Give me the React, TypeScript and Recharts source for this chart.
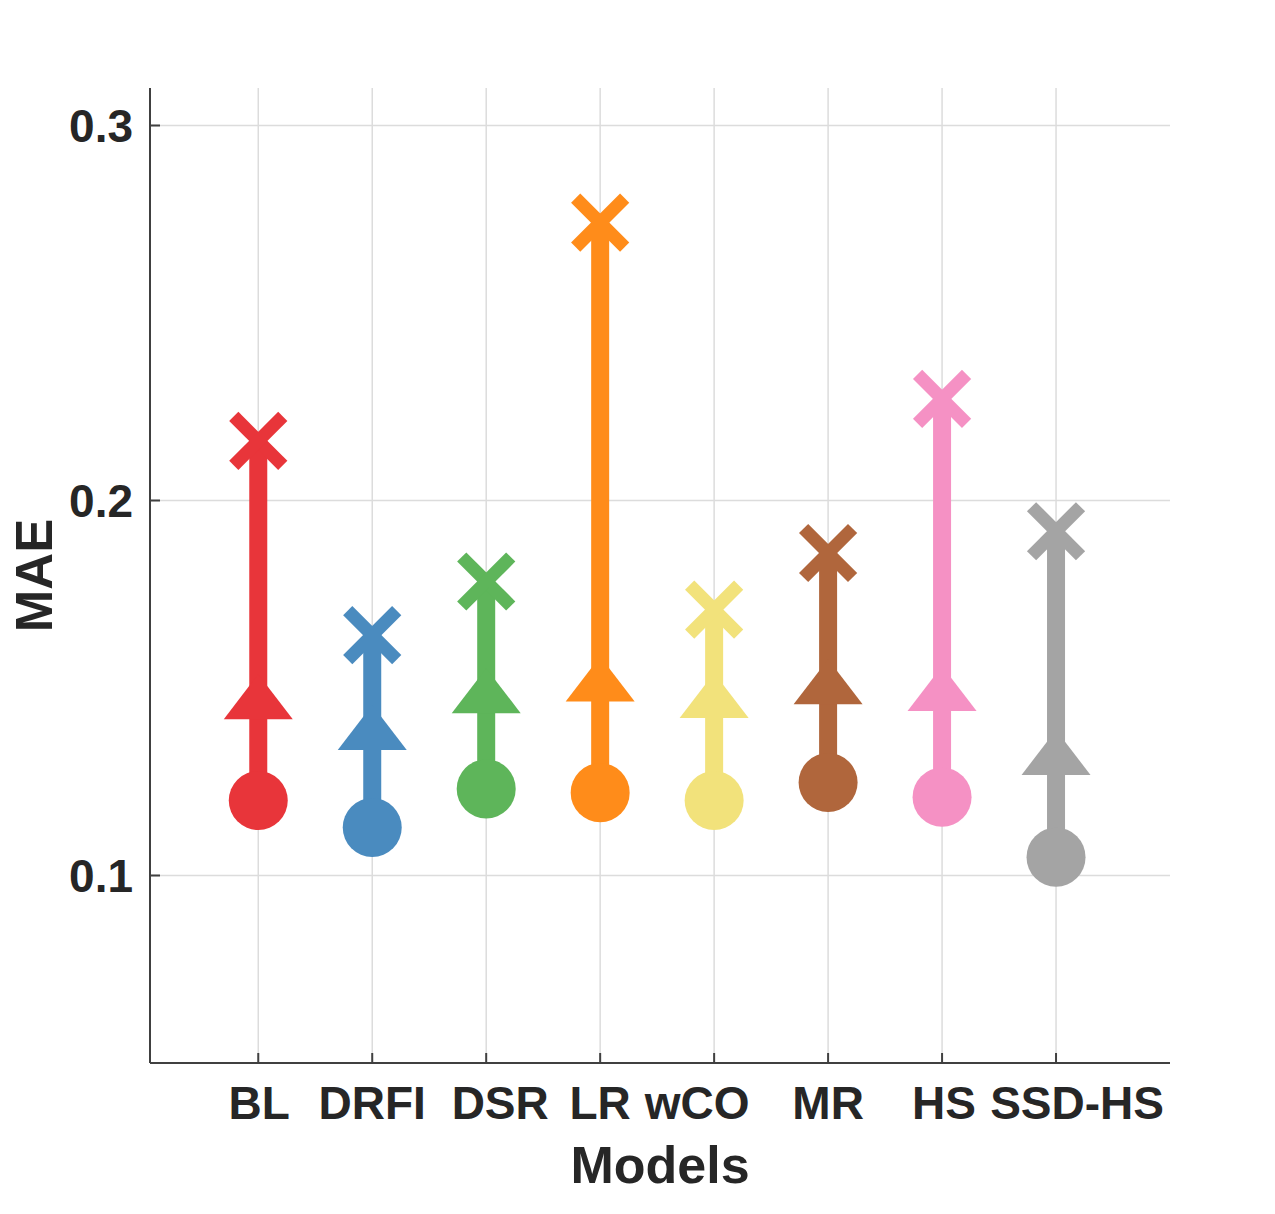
import { ComposedChart, Scatter, XAxis, YAxis, CartesianGrid } from "recharts";

const models = ["BL", "DRFI", "DSR", "LR", "wCO", "MR", "HS", "SSD-HS"];
const circleMAE = [0.12, 0.1128, 0.1231, 0.1221, 0.12, 0.1248, 0.1209, 0.1049];
const triangleMAE = [0.1477, 0.1395, 0.1493, 0.1524, 0.148, 0.1517, 0.1499, 0.1328];
const crossMAE = [0.2159, 0.1641, 0.1784, 0.2741, 0.1709, 0.186, 0.2271, 0.1918];
const yTicks = [0.1, 0.2, 0.3];

const colors = ["#e8353a", "#4a8bbf", "#5eb55a", "#ff8c1a", "#f2e27b", "#b0663c", "#f591c4", "#a4a4a4"];
// the original tick labels are not centred exactly under their ticks
const labelShift = [1, 0, 14, 0, -17, 0, 2, 21];

const FONT = "'Liberation Sans', Arial, Helvetica, sans-serif";
const INK = "#262626";
const AXIS = "#404040";

const xPos = models.map((_, i) => i + 1);
const circles = models.map((_, i) => ({ x: i + 1, y: circleMAE[i], k: i }));
const triangles = models.map((_, i) => ({ x: i + 1, y: triangleMAE[i], k: i }));
const crosses = models.map((_, i) => ({ x: i + 1, y: crossMAE[i], k: i }));

const XTick = (props: any) => {
  const { x, y, payload } = props;
  const i = Math.round(payload.value) - 1;
  return (
    <g>
      <line x1={x} y1={y} x2={x} y2={y - 10} stroke={AXIS} strokeWidth={2} />
      <text x={x + labelShift[i]} y={y + 56} textAnchor="middle" fontFamily={FONT} fontWeight="bold" fontSize={46} fill={INK}>
        {models[i]}
      </text>
    </g>
  );
};

const YTick = (props: any) => {
  const { x, y, payload } = props;
  return (
    <g>
      <line x1={x} y1={y} x2={x + 10} y2={y} stroke={AXIS} strokeWidth={2} />
      <text x={x - 17} y={y} dy="0.36em" textAnchor="end" fontFamily={FONT} fontWeight="bold" fontSize={46} fill={INK}>
        {payload.value.toFixed(1)}
      </text>
    </g>
  );
};

const XTitle = (props: any) => {
  const vb = props.viewBox;
  return (
    <text x={vb.x + vb.width / 2} y={vb.y + 120} textAnchor="middle" fontFamily={FONT} fontWeight="bold" fontSize={52} fill={INK}>
      Models
    </text>
  );
};

const YTitle = (props: any) => {
  const vb = props.viewBox;
  const cx = vb.x + 44;
  const cy = vb.y + vb.height / 2;
  return (
    <text x={cx} y={cy} transform={`rotate(-90, ${cx}, ${cy})`} textAnchor="middle" fontFamily={FONT} fontWeight="bold" fontSize={51} fill={INK}>
      MAE
    </text>
  );
};

const Dot = (p: any) => <circle cx={p.cx} cy={p.cy} r={29.5} fill={colors[p.payload.k]} />;

const Tri = (p: any) => (
  <polygon
    points={`${p.cx},${p.cy - 22.5} ${p.cx - 34.5},${p.cy + 22.5} ${p.cx + 34.5},${p.cy + 22.5}`}
    fill={colors[p.payload.k]}
  />
);

const Cross = (p: any) => {
  const h = 24.5;
  const c = colors[p.payload.k];
  return (
    <g stroke={c} strokeWidth={13}>
      <line x1={p.cx - h} y1={p.cy - h} x2={p.cx + h} y2={p.cy + h} />
      <line x1={p.cx - h} y1={p.cy + h} x2={p.cx + h} y2={p.cy - h} />
    </g>
  );
};

export default function App() {
  return (
    <ComposedChart width={1250} height={1190} margin={{ top: 80, right: 88, bottom: 0, left: 0 }}>
      <CartesianGrid stroke="#dcdcdc" strokeWidth={1.5} syncWithTicks />
      <XAxis
        type="number"
        dataKey="x"
        domain={[0.05, 9]}
        ticks={xPos}
        allowDataOverflow
        interval={0}
        tickSize={0}
        tickMargin={0}
        tick={<XTick />}
        height={135}
        axisLine={{ stroke: AXIS, strokeWidth: 2 }}
        label={{ content: XTitle }}
      />
      <YAxis
        type="number"
        dataKey="y"
        domain={[0.05, 0.31]}
        ticks={yTicks}
        allowDataOverflow
        interval={0}
        tickSize={0}
        tickMargin={0}
        tick={<YTick />}
        width={142}
        axisLine={{ stroke: AXIS, strokeWidth: 2 }}
        label={{ content: YTitle }}
      />
      {models.map((m, i) => (
        <Scatter
          key={m}
          data={[
            { x: i + 1, y: circleMAE[i] },
            { x: i + 1, y: crossMAE[i] },
          ]}
          line={{ stroke: colors[i], strokeWidth: 18 }}
          shape={() => <g />}
          isAnimationActive={false}
        />
      ))}
      <Scatter data={circles} shape={Dot} isAnimationActive={false} />
      <Scatter data={triangles} shape={Tri} isAnimationActive={false} />
      <Scatter data={crosses} shape={Cross} isAnimationActive={false} />
    </ComposedChart>
  );
}
